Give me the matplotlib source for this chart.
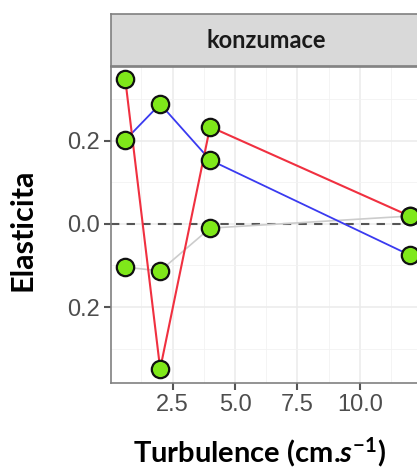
import matplotlib
matplotlib.use("Agg")
import matplotlib.pyplot as plt
import numpy as np

# data
turbulence = [0.6, 2.0, 4.0, 12.0]
red_vals = [0.349, -0.349, 0.234, 0.019]
blue_vals = [0.202, 0.289, 0.154, -0.075]
grey_vals = [-0.104, -0.113, -0.010, 0.019]

x_ticks = [2.5, 5.0, 7.5, 10.0]
x_labels = ["2.5", "5.0", "7.5", "10.0"]
y_ticks = [-0.2, 0.0, 0.2]
y_labels = ["0.2", "0.0", "0.2"]
panel_title = "konzumace"

plt.rcParams['mathtext.fontset'] = 'custom'
plt.rcParams['mathtext.rm'] = 'Lato:bold'
plt.rcParams['mathtext.it'] = 'Lato:italic:bold'
plt.rcParams['mathtext.bf'] = 'Lato:bold'

W, H = 417, 469
fig = plt.figure(figsize=(W / 100, H / 100), dpi=100)

# panel runs a little past the right edge, like the cropped original
ax = fig.add_axes([111 / W, 1 - 383 / H, (424 - 111) / W, (383 - 67) / H])
strip = fig.add_axes([111 / W, 1 - 66 / H, (424 - 111) / W, (66 - 14) / H])

ax.set_xlim(0.03, 12.57)
ax.set_ylim(-0.383, 0.378)

# grid like theme_bw
for v in [1.25, 3.75, 6.25, 8.75, 11.25]:
    ax.axvline(v, color='#F2F2F2', lw=0.6, zorder=0)
for v in x_ticks:
    ax.axvline(v, color='#EBEBEB', lw=1.1, zorder=0)
for v in [-0.3, -0.1, 0.1, 0.3]:
    ax.axhline(v, color='#F2F2F2', lw=0.6, zorder=0)
for v in y_ticks:
    ax.axhline(v, color='#EBEBEB', lw=1.1, zorder=0)

ax.axhline(0, color='#555555', lw=1.5, dashes=(4, 3.5), zorder=1)

ax.plot(turbulence, grey_vals, color='#CCCCCC', lw=1.2, zorder=2)
ax.plot(turbulence, blue_vals, color='#3A3AF0', lw=1.3, zorder=3)
ax.plot(turbulence, red_vals, color='#F03040', lw=1.5, zorder=4)
for vals in [grey_vals, blue_vals, red_vals]:
    ax.plot(turbulence, vals, 'o', ms=12.5, mfc='#7FE81A', mec='#111111',
            mew=1.6, ls='none', zorder=5)

ax.set_xticks(x_ticks)
ax.set_xticklabels(x_labels)
ax.set_yticks(y_ticks)
ax.set_yticklabels(y_labels)
ax.tick_params(axis='both', length=5, width=1.5, color='#555555',
               labelsize=17, labelcolor='#4D4D4D', pad=3)
for lab in ax.get_xticklabels() + ax.get_yticklabels():
    lab.set_family('Liberation Sans')

for s in ax.spines.values():
    s.set_color('#808080')
    s.set_linewidth(1.2)

strip.set_facecolor('#D9D9D9')
strip.set_xticks([])
strip.set_yticks([])
for s in strip.spines.values():
    s.set_color('#808080')
    s.set_linewidth(1.2)
fig.text(266 / W, 1 - 41 / H, panel_title, ha='center', va='center',
         fontsize=17, fontweight='bold', family='Lato', color='#1A1A1A')

fig.text(23 / W, 1 - 230 / H, "Elasticita", rotation=90, ha='center',
         va='center', fontsize=22, fontweight='bold', family='Lato')
fig.text(260 / W, 1 - 462 / H, r"Turbulence (cm.$\mathit{s}^{-1}$)",
         ha='center', va='baseline', fontsize=21, fontweight='bold',
         family='Lato')

fig.savefig('out.png', dpi=100)
